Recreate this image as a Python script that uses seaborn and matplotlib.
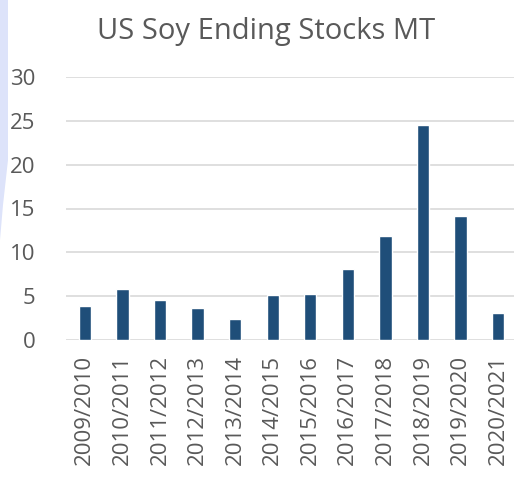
import pandas as pd
import matplotlib
matplotlib.use("Agg")
import matplotlib.pyplot as plt
import seaborn as sns
from matplotlib.patches import Polygon

seasons = ["2009/2010", "2010/2011", "2011/2012", "2012/2013", "2013/2014", "2014/2015",
           "2015/2016", "2016/2017", "2017/2018", "2018/2019", "2019/2020", "2020/2021"]
stocks = [3.9, 5.8, 4.6, 3.6, 2.4, 5.1, 5.2, 8.1, 11.9, 24.5, 14.2, 3.1]
y_ticks = [0, 5, 10, 15, 20, 25, 30]

df = pd.DataFrame({"Season": seasons, "Stocks": stocks})

sns.set_style("white")
plt.rcParams['font.family'] = ['Open Sans', 'DejaVu Sans']
grey = "#595959"

fig = plt.figure(figsize=(5.14, 4.83), dpi=100)
# lavender decoration on the left edge
fig.patches.append(Polygon([(0, 1), (8 / 514, 1), (8 / 514, 1 - 160 / 483),
                            (3 / 514, 1 - 205 / 483), (0, 1 - 240 / 483)],
                           closed=True, transform=fig.transFigure,
                           facecolor="#dde3fa", edgecolor="none", zorder=0))

ax = fig.add_axes([66 / 514, 1 - 340 / 483, 451 / 514, 263 / 483])
sns.barplot(data=df, x="Season", y="Stocks", color="#1f4e79", width=0.33,
            saturation=1, ax=ax, zorder=3)
ax.set_ylim(0, 30)
ax.set_xlim(-0.5, 11.5)
ax.set_yticks(y_ticks)
ax.yaxis.grid(True, color="#d9d9d9", linewidth=1.2, zorder=0)
ax.set_axisbelow(True)
for s in ax.spines.values():
    s.set_visible(False)
ax.set_xlabel("")
ax.set_ylabel("")
ax.tick_params(axis="y", length=0, pad=22, labelsize=16, labelcolor=grey)
ax.tick_params(axis="x", length=0, pad=11, labelsize=16, labelcolor=grey, labelrotation=90)
fig.text(266 / 514, 1 - 32 / 483, "US Soy Ending Stocks MT", ha="center", va="center",
         fontsize=21, color=grey)

fig.savefig("out.png", dpi=100)
